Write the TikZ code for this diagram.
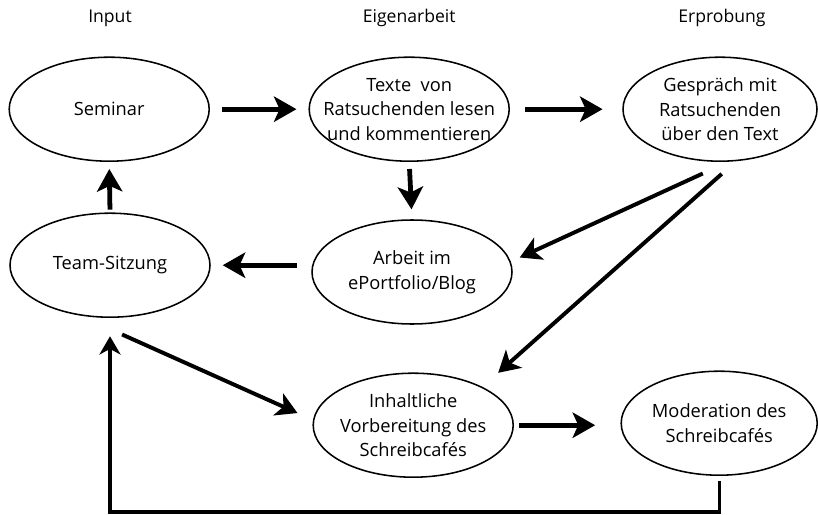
\documentclass[tikz,border=0pt]{standalone}
\usepackage{fontspec}
\setmainfont{Open Sans}
\usepackage{tikz}
\usetikzlibrary{arrows.meta,positioning,calc,shapes.geometric}

\begin{document}
\begin{tikzpicture}[
  ell/.style={draw, ellipse, line width=1.1pt, align=center, font=\fontsize{13}{17.5}\selectfont, minimum width=5cm, minimum height=2.6cm, inner xsep=-15pt, inner ysep=0pt},
  hd/.style={font=\fontsize{12.5}{15}\selectfont},
  arr/.style={-{Stealth[length=16pt, width=18pt, inset=4pt]}, line width=3.4pt},
  arrd/.style={-{Stealth[length=15pt, width=17pt, inset=4pt]}, line width=2.8pt},
  arrl/.style={-{Stealth[length=13pt, width=15pt, inset=4pt]}, line width=2.2pt}]
\useasboundingbox (0,0) rectangle (20.45,-12.85);
% column titles
\node[hd] (hin) at (2.75,-0.45) {Input};
\node[hd] (hei) at (10.23,-0.45) {Eigenarbeit};
\node[hd] (her) at (18.05,-0.45) {Erprobung};
% first row
\node[ell] (sem) at (2.73,-2.73) {Seminar};
\node[ell] (txt) at (10.23,-2.73) {Texte~ von\\Ratsuchenden lesen\\und kommentieren};
\node[ell, minimum width=4.85cm] (ges) at (18.0,-2.73) {Gespräch mit\\Ratsuchenden\\über den Text};
% second row
\node[ell] (team) at (2.75,-6.63) {Team-Sitzung};
\node[ell] (arb) at (10.3,-6.8) {Arbeit im\\ePortfolio/Blog};
% third row
\node[ell] (inh) at (10.33,-10.63) {Inhaltliche\\Vorbereitung des\\Schreibcafés};
\node[ell, minimum width=4.9cm] (mod) at (17.98,-10.58) {Moderation des\\Schreibcafés};
\coordinate (low) at (2.75,-12.8);
% connectors
\draw[arr, shorten <=8.5pt, shorten >=8.5pt] (sem.east) -- (txt.west);
\draw[arr, shorten <=10.7pt, shorten >=14pt] (txt.east) -- (ges.west);
\draw[arr, shorten <=2pt, shorten >=5pt] (team.north) -- (sem.south);
\draw[arr, shorten <=5pt, shorten >=7pt] (txt.south) -- (arb.north);
\draw[arr, shorten <=10pt, shorten >=8.5pt] (arb.west |- team.east) -- (team.east);
\draw[arrd, shorten <=20pt, shorten >=7pt] (ges.-81) -- (arb.6);
\draw[arrd, shorten <=13.5pt, shorten >=15pt] (ges.-73) -- (inh.29);
\draw[arrd, shorten <=33pt, shorten >=12pt] (team.-121) -- (inh.177);
\draw[arr, shorten <=3.5pt, shorten >=18pt] (inh.east) -- (inh.east -| mod.west);
\draw[arrl, shorten <=3.5pt, shorten >=13pt] (mod.south) |- (low) -| (team.south);
\end{tikzpicture}
\end{document}
